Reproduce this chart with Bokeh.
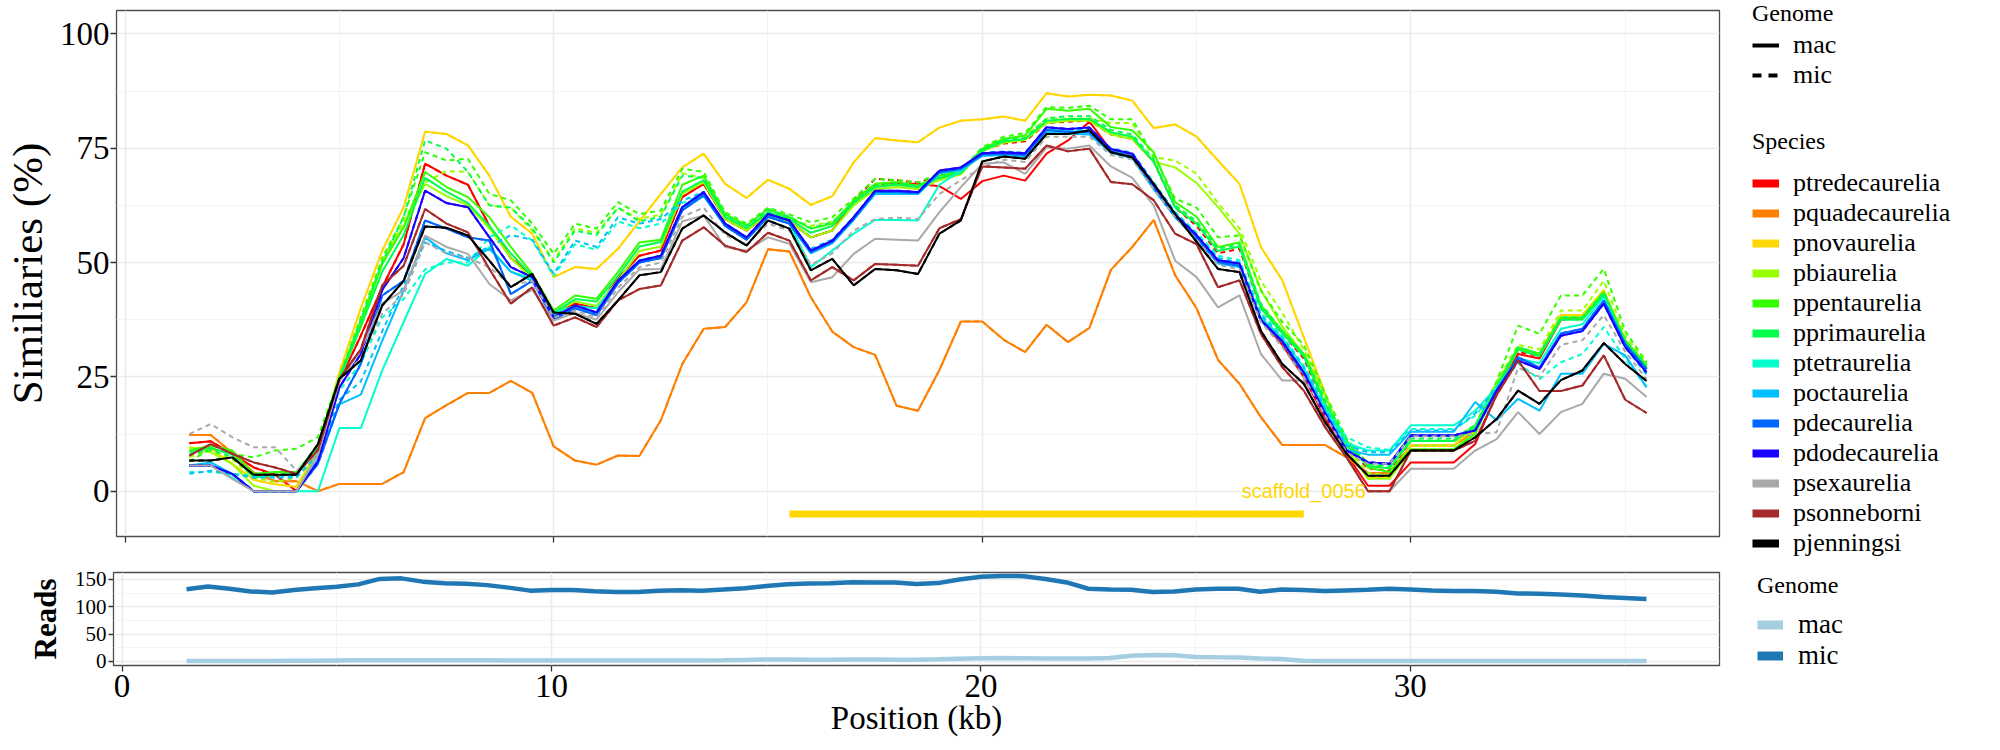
from bokeh.plotting import figure
from bokeh.models import Range1d, FixedTicker, Legend, LegendItem
from bokeh.layouts import row, column
from bokeh.embed import file_html
from bokeh.resources import INLINE
from bokeh.core.properties import value

# ---------------- data ----------------
position_kb = [1.5, 2.0, 2.5, 3.0, 3.5, 4.0, 4.5, 5.0, 5.5, 6.0, 6.5, 7.0,
               7.5, 8.0, 8.5, 9.0, 9.5, 10.0, 10.5, 11.0, 11.5, 12.0, 12.5, 13.0,
               13.5, 14.0, 14.5, 15.0, 15.5, 16.0, 16.5, 17.0, 17.5, 18.0, 18.5, 19.0,
               19.5, 20.0, 20.5, 21.0, 21.5, 22.0, 22.5, 23.0, 23.5, 24.0, 24.5, 25.0,
               25.5, 26.0, 26.5, 27.0, 27.5, 28.0, 28.5, 29.0, 29.5, 30.0, 30.5, 31.0,
               31.5, 32.0, 32.5, 33.0, 33.5, 34.0, 34.5, 35.0, 35.5]

species = ["ptredecaurelia", "pquadecaurelia", "pnovaurelia", "pbiaurelia", "ppentaurelia",
           "pprimaurelia", "ptetraurelia", "poctaurelia", "pdecaurelia", "pdodecaurelia",
           "psexaurelia", "psonneborni", "pjenningsi"]
species_colors = ["#FF0000", "#FF7F00", "#FFD700", "#99FF00", "#33FF00",
                  "#00FF4C", "#00FFCC", "#00BFFF", "#0066FF", "#1A00FF",
                  "#A9A9A9", "#A52A2A", "#000000"]
genomes = ["mac", "mic"]
reads_colors = ["#A6CEE3", "#1F78B4"]

ptredecaurelia_mac = [10.5, 10.9, 8.2, 5.2, 3.6, 0.0, 9.5, 24.0, 34.0, 44.6, 54.0, 71.6,
                      69.0, 67.0, 58.0, 51.0, 47.0, 38.5, 41.0, 40.0, 46.5, 51.5, 52.6, 64.3,
                      67.2, 59.5, 57.0, 60.5, 59.0, 55.5, 57.0, 63.5, 67.0, 67.2, 67.2, 66.7,
                      63.9, 67.8, 69.0, 67.9, 73.8, 76.7, 80.8, 74.5, 73.5, 67.0, 60.0, 55.0,
                      50.0, 49.5, 37.5, 32.0, 25.0, 16.0, 8.0, 1.2, 1.2, 6.3, 6.3, 6.3,
                      10.3, 21.3, 30.0, 29.0, 37.5, 38.0, 43.0, 32.5, 27.0]
pquadecaurelia_mac = [12.3, 12.3, 8.4, 4.1, 2.2, 2.2, 0.0, 1.6, 1.6, 1.6, 4.2, 16.0,
                      18.8, 21.5, 21.5, 24.1, 21.5, 9.8, 6.7, 5.8, 7.8, 7.7, 15.5, 27.8,
                      35.5, 35.9, 41.3, 52.9, 52.4, 42.4, 34.9, 31.5, 29.8, 18.7, 17.6, 26.5,
                      37.1, 37.1, 33.1, 30.4, 36.4, 32.6, 35.7, 48.4, 53.4, 59.3, 47.2, 40.0,
                      28.7, 23.5, 16.2, 10.1, 10.1, 10.1, 7.4, 4.0, 4.0, 10.0, 10.0, 10.0,
                      13.0, 22.0, 31.0, 30.0, 38.5, 38.5, 43.5, 33.0, 27.5]
pnovaurelia_mac = [9.5, 9.3, 6.0, 2.5, 1.5, 1.0, 9.0, 26.0, 40.0, 52.6, 62.1, 78.6,
                   78.1, 75.6, 69.0, 60.0, 56.3, 46.8, 49.0, 48.6, 53.0, 59.0, 65.0, 70.8,
                   73.8, 67.2, 64.1, 68.1, 66.1, 62.6, 64.5, 71.9, 77.2, 76.7, 76.3, 79.5,
                   81.0, 81.3, 81.9, 81.0, 87.0, 86.3, 86.7, 86.5, 85.4, 79.4, 80.2, 77.5,
                   72.3, 67.2, 53.4, 46.1, 33.7, 21.3, 9.0, 3.0, 3.0, 10.0, 10.0, 10.0,
                   14.0, 23.0, 31.0, 30.0, 38.5, 38.5, 44.0, 33.0, 27.0]
pbiaurelia_mac = [9.6, 8.5, 6.0, 1.2, 0.0, 0.0, 9.0, 24.5, 36.0, 50.0, 58.0, 67.2,
                  64.5, 62.5, 57.5, 51.0, 46.5, 39.0, 41.5, 40.5, 46.0, 52.5, 53.5, 65.0,
                  67.5, 59.5, 57.0, 60.5, 59.0, 55.5, 57.0, 62.5, 66.0, 66.5, 66.0, 68.0,
                  69.3, 74.3, 76.2, 76.8, 80.5, 81.0, 81.0, 78.0, 77.0, 72.0, 70.8, 67.4,
                  62.1, 56.3, 44.0, 36.0, 30.0, 21.0, 9.5, 2.7, 2.7, 8.9, 8.9, 8.9,
                  13.0, 23.5, 31.5, 30.0, 38.0, 38.0, 43.5, 33.0, 27.5]
ppentaurelia_mac = [8.9, 10.0, 8.9, 3.8, 4.2, 4.2, 10.0, 24.6, 37.0, 49.7, 57.7, 69.8,
                    66.5, 64.3, 59.9, 53.4, 47.5, 39.5, 42.8, 42.1, 47.9, 54.4, 55.0, 67.0,
                    69.0, 60.6, 58.1, 61.7, 59.9, 57.4, 58.5, 63.6, 67.2, 67.6, 66.8, 69.0,
                    69.8, 74.9, 77.0, 77.8, 83.6, 83.2, 83.6, 79.6, 78.9, 74.1, 63.2, 60.0,
                    53.4, 54.4, 40.6, 35.1, 30.0, 19.1, 11.0, 5.2, 4.2, 9.2, 9.2, 9.2,
                    12.5, 22.7, 31.5, 30.0, 38.0, 38.0, 43.5, 32.9, 27.5]
pprimaurelia_mac = [8.5, 9.5, 8.0, 3.0, 3.5, 3.8, 9.8, 24.5, 36.0, 48.0, 56.0, 68.5,
                    65.5, 63.0, 58.0, 52.0, 47.0, 39.0, 42.0, 41.5, 47.0, 53.5, 54.5, 65.5,
                    68.0, 60.0, 57.5, 61.0, 59.5, 56.5, 58.0, 63.0, 66.5, 67.0, 66.5, 68.5,
                    69.5, 74.5, 76.5, 77.0, 81.0, 81.4, 81.4, 78.5, 77.5, 72.0, 62.0, 58.5,
                    52.5, 53.5, 40.0, 34.5, 29.5, 19.0, 10.0, 5.5, 5.0, 11.0, 11.0, 11.0,
                    14.0, 22.7, 31.0, 29.5, 37.5, 37.5, 43.0, 32.5, 27.0]
ptetraurelia_mac = [5.6, 5.6, 3.0, 0.0, 0.0, 0.0, 0.0, 13.8, 13.8, 26.4, 37.0, 47.5,
                    50.8, 49.3, 53.4, 48.0, 46.5, 39.0, 40.5, 40.0, 46.0, 50.5, 51.5, 62.0,
                    65.0, 58.5, 55.5, 60.0, 58.5, 49.0, 52.6, 56.3, 59.3, 59.3, 59.2, 67.0,
                    70.0, 73.5, 74.0, 73.5, 79.0, 78.5, 78.5, 74.5, 73.2, 66.5, 60.0, 55.5,
                    50.5, 49.5, 38.0, 33.5, 27.0, 18.0, 10.5, 8.9, 8.9, 14.4, 14.4, 14.4,
                    17.6, 22.7, 29.0, 28.0, 35.5, 36.5, 42.5, 32.0, 26.0]
poctaurelia_mac = [5.6, 6.3, 3.8, 0.0, 0.0, 0.0, 7.0, 19.0, 21.1, 32.9, 43.9, 55.5,
                   52.0, 50.5, 53.0, 48.0, 46.0, 38.5, 40.0, 39.0, 45.5, 50.0, 51.0, 61.5,
                   64.5, 58.0, 55.0, 60.0, 58.5, 52.0, 54.2, 59.3, 65.0, 65.0, 65.0, 69.5,
                   70.2, 73.3, 73.5, 73.2, 78.5, 78.2, 78.0, 74.0, 72.8, 66.0, 59.9, 55.0,
                   49.8, 49.0, 37.5, 32.8, 26.0, 17.5, 9.0, 8.0, 8.0, 13.0, 13.0, 13.0,
                   19.5, 15.5, 20.2, 17.6, 25.7, 25.7, 32.2, 29.7, 22.7]
pdecaurelia_mac = [5.6, 5.6, 3.8, 0.0, 0.0, 0.0, 6.0, 19.1, 27.8, 42.8, 46.0, 59.2,
                   57.4, 55.5, 54.8, 43.1, 46.0, 37.5, 40.0, 38.5, 45.5, 50.0, 51.0, 61.4,
                   64.8, 58.0, 55.0, 60.0, 58.5, 52.3, 54.5, 59.6, 65.4, 65.4, 65.2, 69.8,
                   70.5, 73.6, 73.8, 73.5, 79.0, 78.6, 78.5, 74.3, 73.2, 66.5, 60.0, 55.5,
                   50.1, 49.3, 37.3, 32.6, 25.7, 16.9, 8.9, 6.3, 6.0, 12.2, 12.2, 12.2,
                   13.3, 22.0, 29.3, 27.0, 34.5, 35.5, 41.7, 32.2, 26.7]
pdodecaurelia_mac = [5.6, 5.6, 3.8, 0.0, 0.0, 0.0, 6.5, 22.7, 30.0, 44.0, 51.0, 65.7,
                     63.0, 62.1, 55.5, 49.0, 46.8, 38.0, 40.6, 39.1, 46.0, 50.4, 51.5, 62.1,
                     65.4, 58.5, 55.5, 60.6, 59.2, 52.6, 54.8, 59.9, 65.7, 65.7, 65.4, 70.1,
                     70.8, 73.9, 74.1, 73.9, 79.6, 79.2, 79.5, 74.8, 73.8, 67.0, 60.5, 56.0,
                     50.5, 49.8, 37.5, 32.8, 26.0, 17.0, 8.9, 6.3, 6.0, 12.2, 12.2, 12.2,
                     13.3, 22.0, 28.6, 26.7, 34.0, 35.0, 41.0, 31.5, 26.0]
psexaurelia_mac = [5.6, 5.6, 2.7, 0.0, 0.0, 0.0, 8.0, 24.0, 31.0, 41.0, 43.9, 55.9,
                   53.4, 51.9, 45.3, 41.7, 44.0, 37.3, 39.0, 37.5, 43.5, 48.5, 48.6, 59.0,
                   60.3, 53.4, 52.6, 55.5, 54.1, 45.7, 46.8, 51.9, 55.2, 55.0, 54.8, 61.0,
                   66.5, 71.6, 71.9, 69.4, 75.2, 74.9, 75.6, 71.0, 68.5, 62.5, 50.4, 46.8,
                   40.2, 42.8, 30.0, 24.2, 24.2, 14.0, 7.4, 0.0, 0.0, 4.9, 4.9, 4.9,
                   8.9, 11.4, 17.3, 12.5, 17.3, 19.1, 25.7, 24.6, 20.6]
psonneborni_mac = [7.8, 10.3, 8.2, 6.3, 5.2, 3.8, 9.0, 24.6, 31.0, 45.0, 49.3, 61.7,
                   58.5, 56.6, 48.6, 41.0, 44.6, 36.2, 38.0, 35.9, 41.7, 44.2, 45.0, 54.8,
                   57.7, 53.7, 52.3, 56.5, 54.8, 46.1, 49.0, 46.1, 49.7, 49.5, 49.3, 57.5,
                   59.5, 71.0, 70.8, 70.5, 75.6, 74.3, 74.9, 67.6, 67.1, 63.6, 56.3, 54.0,
                   44.6, 46.1, 34.4, 27.1, 22.0, 14.0, 7.4, 0.0, 0.0, 8.9, 8.9, 8.9,
                   11.0, 21.0, 28.6, 21.9, 21.9, 23.1, 29.7, 20.0, 17.1]
pjenningsi_mac = [6.7, 6.7, 7.4, 3.6, 3.6, 3.6, 10.3, 24.6, 28.6, 40.6, 46.0, 57.9,
                  57.6, 55.9, 50.4, 44.6, 47.5, 39.1, 38.8, 36.6, 41.7, 47.2, 47.9, 57.4,
                  60.3, 56.6, 53.7, 59.2, 57.4, 48.3, 50.8, 45.0, 48.6, 48.3, 47.5, 56.3,
                  59.2, 72.1, 73.2, 72.7, 78.1, 78.1, 78.9, 74.1, 73.0, 67.2, 60.6, 54.5,
                  48.6, 47.9, 35.1, 27.8, 23.5, 15.1, 8.2, 3.4, 3.4, 8.9, 8.9, 8.9,
                  11.8, 15.8, 22.0, 19.1, 24.3, 26.4, 32.4, 27.8, 24.1]

ptredecaurelia_mic = [10.5, 10.9, 8.2, 5.2, 3.6, 0.0, 9.5, 24.0, 34.0, 44.6, 54.0, 71.6,
                      69.0, 67.0, 58.0, 51.0, 47.0, 38.5, 41.0, 40.0, 46.5, 51.5, 52.6, 64.3,
                      67.2, 59.5, 57.0, 60.5, 59.0, 55.5, 57.0, 63.5, 68.3, 68.0, 67.5, 69.0,
                      70.0, 74.5, 76.0, 76.5, 80.5, 80.8, 81.0, 78.0, 77.0, 72.0, 62.0, 58.0,
                      52.0, 53.0, 40.0, 34.5, 29.0, 18.5, 9.5, 5.0, 4.5, 11.0, 11.0, 11.0,
                      13.5, 22.5, 30.5, 29.5, 37.5, 38.0, 43.0, 32.5, 27.0]
pquadecaurelia_mic = pquadecaurelia_mac      # hidden under the mac line
pnovaurelia_mic = pnovaurelia_mac            # hidden under the mac line
pbiaurelia_mic = [7.5, 8.8, 7.0, 3.0, 2.0, 3.0, 10.5, 25.0, 37.0, 50.5, 59.0, 67.5,
                  70.0, 69.8, 62.5, 62.0, 57.0, 50.5, 57.5, 56.5, 62.0, 59.5, 60.5, 69.5,
                  68.5, 60.0, 57.5, 61.0, 59.5, 58.0, 59.0, 63.0, 67.0, 67.0, 66.5, 68.5,
                  69.5, 74.8, 77.0, 77.5, 81.5, 81.5, 81.5, 80.5, 80.5, 73.0, 72.3, 69.4,
                  63.0, 57.5, 46.0, 39.0, 31.0, 21.0, 10.0, 4.0, 3.5, 10.0, 10.0, 10.0,
                  14.0, 24.0, 32.0, 31.0, 39.5, 39.5, 46.0, 34.0, 28.0]
ppentaurelia_mic = [6.5, 9.3, 8.2, 7.4, 8.9, 9.3, 11.8, 25.0, 38.0, 51.0, 60.0, 74.1,
                    72.3, 72.7, 65.0, 63.6, 58.5, 51.9, 58.5, 57.4, 63.2, 60.6, 61.4, 70.5,
                    69.8, 61.0, 58.5, 62.0, 60.5, 58.8, 59.9, 64.0, 68.3, 68.0, 67.5, 69.5,
                    70.0, 75.2, 77.5, 78.3, 84.0, 83.8, 84.3, 81.3, 81.3, 73.4, 64.0, 62.0,
                    55.5, 55.9, 43.9, 37.0, 32.0, 21.3, 11.5, 6.0, 5.0, 11.1, 11.1, 11.1,
                    14.5, 24.0, 36.2, 34.4, 42.8, 42.8, 48.6, 35.0, 28.2]
pprimaurelia_mic = [8.0, 9.0, 7.5, 3.5, 3.5, 4.0, 10.0, 25.0, 37.5, 50.0, 60.0, 76.7,
                    74.9, 69.8, 62.5, 62.0, 57.5, 50.0, 57.0, 56.0, 62.0, 59.0, 60.0, 69.0,
                    68.5, 60.3, 58.0, 61.5, 60.0, 57.5, 58.8, 63.3, 66.8, 67.3, 66.8, 68.8,
                    69.8, 74.8, 76.8, 77.3, 81.5, 82.0, 82.0, 79.0, 78.0, 72.5, 62.5, 59.0,
                    53.0, 54.0, 41.0, 35.0, 30.0, 20.0, 11.0, 6.0, 5.5, 11.5, 11.5, 11.5,
                    14.5, 23.0, 31.5, 30.0, 38.0, 38.0, 43.5, 33.0, 27.5]
ptetraurelia_mic = [4.2, 4.2, 3.8, 3.4, 3.1, 3.4, 9.0, 22.0, 28.0, 38.0, 42.0, 48.5,
                    50.0, 50.0, 55.5, 58.1, 54.8, 47.0, 54.0, 52.8, 59.0, 57.5, 58.5, 63.0,
                    65.0, 58.5, 55.5, 60.0, 58.5, 52.5, 54.5, 59.5, 65.0, 65.2, 65.0, 69.5,
                    70.5, 73.8, 74.0, 73.8, 79.2, 78.8, 78.8, 74.5, 73.5, 67.0, 61.0, 56.5,
                    51.5, 50.5, 39.0, 34.0, 27.5, 18.5, 11.8, 9.6, 9.0, 13.6, 13.6, 13.6,
                    16.5, 22.0, 28.0, 24.5, 28.2, 30.0, 35.9, 29.0, 22.7]
poctaurelia_mic = [3.8, 4.5, 3.8, 3.0, 3.0, 3.0, 8.0, 20.0, 24.0, 35.0, 45.0, 54.4,
                   52.5, 51.0, 53.5, 56.0, 55.0, 47.5, 54.8, 53.4, 59.9, 58.5, 59.5, 63.5,
                   65.5, 58.5, 55.5, 60.3, 58.8, 53.0, 55.0, 60.0, 65.5, 65.5, 65.3, 70.0,
                   70.7, 74.0, 74.3, 74.0, 79.3, 79.0, 79.0, 75.0, 74.0, 67.5, 61.0, 56.0,
                   51.0, 50.0, 38.5, 33.5, 27.0, 18.0, 10.0, 8.5, 8.5, 13.3, 13.3, 13.3,
                   17.0, 22.5, 29.0, 27.0, 34.5, 35.0, 41.0, 31.5, 25.5]
pdecaurelia_mic = pdecaurelia_mac            # hidden under the mac line
pdodecaurelia_mic = pdodecaurelia_mac        # hidden under the mac line
psexaurelia_mic = [12.5, 14.7, 11.8, 9.6, 9.6, 4.5, 8.0, 24.6, 29.0, 38.8, 43.0, 54.4,
                   52.0, 51.0, 49.0, 45.0, 46.0, 38.0, 39.5, 38.0, 44.5, 49.0, 50.0, 60.0,
                   62.0, 56.0, 54.0, 58.5, 57.0, 49.5, 52.0, 57.0, 59.5, 59.8, 59.5, 65.0,
                   68.0, 70.8, 72.5, 72.0, 77.5, 77.5, 77.5, 73.5, 72.5, 66.0, 60.0, 55.0,
                   49.5, 48.5, 37.0, 31.5, 25.0, 16.5, 8.5, 6.0, 6.0, 12.0, 12.0, 12.0,
                   12.5, 12.9, 27.0, 25.0, 32.0, 33.0, 38.5, 30.5, 24.5]
psonneborni_mic = psonneborni_mac            # hidden under the mac line
pjenningsi_mic = pjenningsi_mac              # hidden under the mac line

reads_mac = [0.5, 0.5, 0.5, 0.5, 0.5, 0.8, 1.0, 1.5, 1.8, 2.0, 2.0, 2.0,
             1.8, 1.8, 1.7, 1.6, 1.5, 1.5, 1.5, 1.4, 1.4, 1.4, 1.5, 1.5,
             1.6, 1.8, 2.5, 3.2, 3.3, 3.0, 3.0, 3.2, 3.2, 3.0, 3.0, 3.5,
             4.5, 5.5, 6.0, 5.5, 5.0, 5.0, 5.0, 6.0, 10.0, 11.5, 11.0, 8.0,
             7.3, 7.0, 5.0, 4.0, 1.0, 0.6, 0.6, 0.6, 0.6, 0.6, 0.6, 0.6,
             0.6, 0.6, 0.6, 0.6, 0.6, 0.6, 0.6, 0.6, 0.6]
reads_mic = [132, 137, 133, 128, 126, 130.5, 134, 136.6, 141, 151, 152, 146,
             143, 142, 139.6, 135, 129.5, 130.5, 130.5, 128.5, 127, 127, 129.3, 130,
             129.5, 131.5, 134, 138, 141, 142.7, 143, 145, 144.5, 144.5, 141.5, 143.3,
             150, 155, 156.5, 156, 151, 144.5, 133, 131.7, 131, 126.8, 128, 131.7,
             132.9, 132.9, 127.4, 131.7, 130.5, 128.7, 129.9, 131, 133, 131.7, 129.9, 128.7,
             128.7, 127.4, 124.4, 123.8, 122.6, 120.7, 117.7, 115.9, 114]

scaffold_label = ["scaffold_0056"]
scaffold_start = [15.5]
scaffold_end = [27.5]
scaffold_y = [-5.0]
scaffold_label_y = [0.0]

x_ticks = [0, 10, 20, 30]
x_minor = [5, 15, 25, 35]
sim_ticks = [0, 25, 50, 75, 100]
sim_minor = [12.5, 37.5, 62.5, 87.5]
reads_ticks = [0, 50, 100, 150]
reads_minor = [25, 75, 125]

mac_series = {
    "ptredecaurelia": ptredecaurelia_mac, "pquadecaurelia": pquadecaurelia_mac,
    "pnovaurelia": pnovaurelia_mac, "pbiaurelia": pbiaurelia_mac,
    "ppentaurelia": ppentaurelia_mac, "pprimaurelia": pprimaurelia_mac,
    "ptetraurelia": ptetraurelia_mac, "poctaurelia": poctaurelia_mac,
    "pdecaurelia": pdecaurelia_mac, "pdodecaurelia": pdodecaurelia_mac,
    "psexaurelia": psexaurelia_mac, "psonneborni": psonneborni_mac,
    "pjenningsi": pjenningsi_mac}
mic_series = {
    "ptredecaurelia": ptredecaurelia_mic, "pquadecaurelia": pquadecaurelia_mic,
    "pnovaurelia": pnovaurelia_mic, "pbiaurelia": pbiaurelia_mic,
    "ppentaurelia": ppentaurelia_mic, "pprimaurelia": pprimaurelia_mic,
    "ptetraurelia": ptetraurelia_mic, "poctaurelia": poctaurelia_mic,
    "pdecaurelia": pdecaurelia_mic, "pdodecaurelia": pdodecaurelia_mic,
    "psexaurelia": psexaurelia_mic, "psonneborni": psonneborni_mic,
    "pjenningsi": pjenningsi_mic}

# ---------------- styling helpers ----------------
SERIF = "Liberation Serif"
W_MAIN = 1727
W_LEG = 265
x_range = Range1d(-0.2, 37.2)


def style_panel(p, yt, ym):
    p.background_fill_color = "white"
    p.border_fill_color = "white"
    p.outline_line_color = "#4D4D4D"
    p.outline_line_width = 1.3
    p.xaxis.ticker = FixedTicker(ticks=x_ticks, minor_ticks=x_minor)
    p.yaxis.ticker = FixedTicker(ticks=yt, minor_ticks=ym)
    for g in (p.xgrid, p.ygrid):
        g.grid_line_color = "#EBEBEB"
        g.grid_line_width = 1.6
        g.minor_grid_line_color = "#F3F3F3"
        g.minor_grid_line_width = 1.0
    for ax in (p.xaxis, p.yaxis):
        ax.axis_line_color = None
        ax.major_tick_in = 0
        ax.major_tick_out = 6
        ax.major_tick_line_color = "#333333"
        ax.major_tick_line_width = 1.3
        ax.minor_tick_line_color = None
        ax.major_label_text_font = SERIF
        ax.major_label_text_color = "black"
        ax.axis_label_text_font = SERIF
        ax.axis_label_text_font_style = "normal"
        ax.axis_label_text_color = "black"


# ---------------- top panel ----------------
p1 = figure(width=W_MAIN, height=562, x_range=x_range, y_range=Range1d(-9.9, 105.1),
            toolbar_location=None, output_backend="svg",
            min_border_left=113, min_border_right=8, min_border_top=10, min_border_bottom=26)
style_panel(p1, sim_ticks, sim_minor)
p1.xaxis.major_label_text_color = None
p1.xaxis.major_label_text_font_size = "6px"
p1.yaxis.major_label_text_font_size = "33px"
p1.yaxis.major_label_standoff = 1
p1.yaxis.axis_label = "Similiaries (%)"
p1.yaxis.axis_label_text_font_size = "43px"
p1.yaxis.axis_label_standoff = 6

for sp, col in zip(species, species_colors):
    p1.line(position_kb, mac_series[sp], line_color=col, line_width=2.0)
    p1.line(position_kb, mic_series[sp], line_color=col, line_width=2.0, line_dash="5 4")

p1.segment(x0=scaffold_start, y0=scaffold_y, x1=scaffold_end, y1=scaffold_y,
           line_color="#FFD700", line_width=7)
p1.text(x=scaffold_end, y=scaffold_label_y, text=scaffold_label, text_align="center",
        text_baseline="middle", text_font=value("Liberation Sans"), text_font_size="20px",
        text_color="#FFD700")

# ---------------- bottom panel ----------------
p2 = figure(width=W_MAIN, height=186, x_range=x_range, y_range=Range1d(-7.75, 162.75),
            toolbar_location=None, output_backend="svg",
            min_border_left=113, min_border_right=8, min_border_top=10, min_border_bottom=83)
style_panel(p2, reads_ticks, reads_minor)
p2.xaxis.major_label_text_font_size = "33px"
p2.xaxis.major_label_standoff = 3
p2.xaxis.axis_label = "Position (kb)"
p2.xaxis.axis_label_text_font_size = "33px"
p2.xaxis.axis_label_standoff = 0
p2.yaxis.major_label_text_font_size = "21px"
p2.yaxis.major_label_standoff = 2
p2.yaxis.axis_label = "Reads"
p2.yaxis.axis_label_text_font_size = "31px"
p2.yaxis.axis_label_text_font_style = "bold"
p2.yaxis.axis_label_standoff = 9
p2.yaxis.major_tick_out = 5

p2.line(position_kb, reads_mac, line_color=reads_colors[0], line_width=4.5)
p2.line(position_kb, reads_mic, line_color=reads_colors[1], line_width=4.5)


# ---------------- legends (separate blank figures) ----------------
def blank_fig(w, h, left, top):
    f = figure(width=w, height=h, x_range=Range1d(0, 1), y_range=Range1d(0, 1),
               x_axis_type=None, y_axis_type=None, toolbar_location=None,
               output_backend="svg", min_border_left=left, min_border_top=top,
               min_border_right=0, min_border_bottom=0)
    f.outline_line_color = None
    f.background_fill_color = "white"
    f.border_fill_color = "white"
    f.grid.visible = False
    return f


def make_legend(items, title, gw, gh, lsize, tstand, lstand):
    return Legend(items=items, title=title, location="top_left", margin=0, padding=0,
                  border_line_color=None, background_fill_alpha=0,
                  glyph_width=gw, glyph_height=gh, label_height=gh, spacing=0,
                  label_standoff=lstand, label_text_font=SERIF, label_text_font_size=lsize,
                  label_text_color="black", title_text_font=SERIF,
                  title_text_font_size="24px", title_text_font_style="normal",
                  title_text_color="black", title_standoff=tstand)


lg1 = blank_fig(W_LEG, 127, 25, 0)
r_mac = lg1.line([-5], [-5], line_color="black", line_width=4)
r_mic = lg1.line([-5], [-5], line_color="black", line_width=4, line_dash="9 7")
lg1.add_layout(make_legend([LegendItem(label=g, renderers=[r]) for g, r in zip(genomes, [r_mac, r_mic])],
                           "Genome", 27, 30, "26px", 3, 14))

lg2 = blank_fig(W_LEG, 435, 25, 1)
sp_items = []
for sp, col in zip(species, species_colors):
    r = lg2.line([-5], [-5], line_color=col, line_width=8)
    sp_items.append(LegendItem(label=sp, renderers=[r]))
lg2.add_layout(make_legend(sp_items, "Species", 27, 30, "26px", 13, 14))

lg3 = blank_fig(W_LEG, 186, 30, 10)
rd_items = []
for g, col in zip(genomes, reads_colors):
    r = lg3.line([-5], [-5], line_color=col, line_width=9)
    rd_items.append(LegendItem(label=g, renderers=[r]))
lg3.add_layout(make_legend(rd_items, "Genome", 26, 31, "27px", 10, 15))

layout = column(row(p1, column(lg1, lg2)), row(p2, column(lg3)))

open("out.html", "w").write(file_html(layout, INLINE))
